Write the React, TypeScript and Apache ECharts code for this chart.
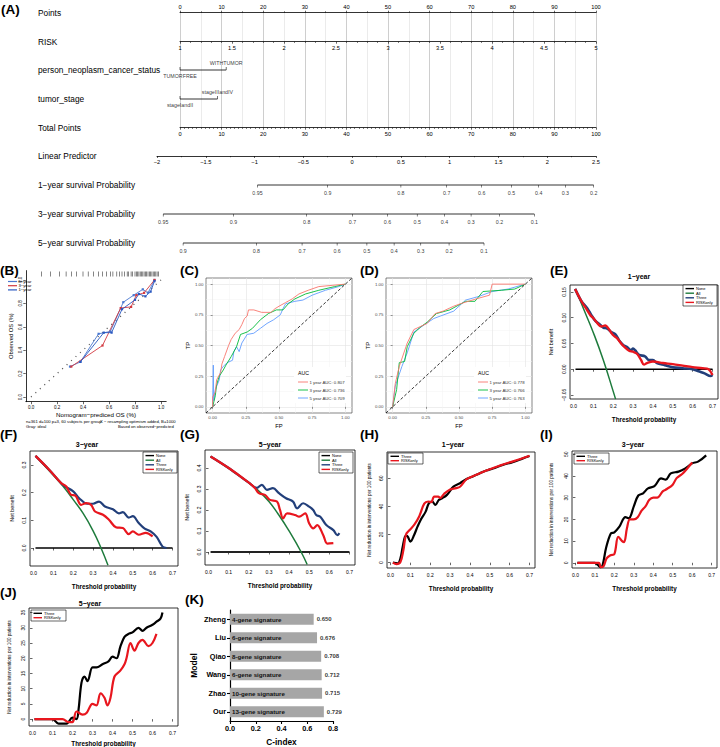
import React, { useEffect, useRef } from "react";
import * as echarts from "echarts";

const FONT = '"Liberation Sans", Arial, Helvetica, sans-serif';
const MINUS = "\u2212";

// ===================== (A) Nomogram =====================
const nomoRowLabels = [
  "Points",
  "RISK",
  "person_neoplasm_cancer_status",
  "tumor_stage",
  "Total Points",
  "Linear Predictor",
  "1\u2212year survival Probability",
  "3\u2212year survival Probability",
  "5\u2212year survival Probability",
];
const statusLevels = ["TUMORFREE", "WITHTUMOR"];
const statusPoints = [0, 11.1];
const stageLevels = ["stageIandII", "stageIIIandIV"];
const stagePoints = [0, 9.0];
const surv1Ticks = [0.95, 0.9, 0.8, 0.7, 0.6, 0.5, 0.4, 0.3, 0.2];
const surv3Ticks = [0.95, 0.9, 0.8, 0.7, 0.6, 0.5, 0.4, 0.3, 0.2, 0.1];
const surv5Ticks = [0.9, 0.8, 0.7, 0.6, 0.5, 0.4, 0.3, 0.2, 0.1];
// linear predictor offsets (log baseline cumulative hazard) for 1/3/5 years
const survShift = [2.0, 1.034, 0.518];

// ===================== (B) Calibration =====================
const calib5 = [[0.30, 0.26], [0.38, 0.30], [0.52, 0.54], [0.61, 0.56], [0.71, 0.81], [0.79, 0.87], [0.86, 0.92], [0.90, 0.89], [0.95, 1.0]];
const calib3 = [[0.31, 0.26], [0.55, 0.44], [0.69, 0.76], [0.77, 0.77], [0.81, 0.87], [0.87, 0.89], [0.95, 1.0]];
const calib1 = [[0.38, 0.30], [0.56, 0.55], [0.62, 0.55], [0.70, 0.75], [0.80, 0.83], [0.83, 0.88], [0.88, 0.86], [0.92, 0.90], [0.95, 0.99]];
const calibRug = [0.08, 0.15, 0.22, 0.27, 0.31, 0.35, 0.4, 0.44, 0.48, 0.52, 0.55, 0.58, 0.61, 0.63, 0.66, 0.68, 0.7, 0.72, 0.74, 0.75, 0.77, 0.78, 0.8, 0.81, 0.82, 0.83, 0.84, 0.85, 0.86, 0.87, 0.88, 0.89, 0.9, 0.91, 0.92, 0.93, 0.94, 0.95, 0.96, 0.97, 0.98];
const calibTicks = [0, 0.2, 0.4, 0.6, 0.8, 1.0];

// ===================== (C)/(D) ROC =====================
const rocTicks = [0, 0.25, 0.5, 0.75, 1];
const rocMinor = [0.125, 0.375, 0.625, 0.875];
const rocC1 = [[0, 0], [0, 0.08], [0.02, 0.12], [0.03, 0.22], [0.06, 0.28], [0.07, 0.35], [0.09, 0.41], [0.12, 0.5], [0.14, 0.55], [0.17, 0.6], [0.2, 0.63], [0.22, 0.67], [0.24, 0.72], [0.26, 0.74], [0.27, 0.79], [0.31, 0.79], [0.37, 0.77], [0.44, 0.77], [0.47, 0.8], [0.5, 0.82], [0.55, 0.85], [0.6, 0.88], [0.65, 0.92], [0.72, 0.95], [0.8, 0.98], [0.9, 0.99], [1, 1]];
const rocC3 = [[0, 0], [0.02, 0.09], [0.03, 0.18], [0.05, 0.25], [0.08, 0.3], [0.1, 0.34], [0.14, 0.41], [0.18, 0.49], [0.21, 0.59], [0.26, 0.61], [0.3, 0.64], [0.36, 0.71], [0.42, 0.76], [0.48, 0.79], [0.53, 0.79], [0.57, 0.84], [0.62, 0.88], [0.7, 0.92], [0.8, 0.95], [0.92, 0.98], [1, 1]];
const rocC5 = [[0, 0], [0.005, 0.34], [0.008, 0.05], [0.02, 0.14], [0.05, 0.22], [0.06, 0.3], [0.08, 0.33], [0.11, 0.36], [0.15, 0.38], [0.16, 0.45], [0.18, 0.49], [0.2, 0.45], [0.22, 0.52], [0.26, 0.59], [0.31, 0.6], [0.36, 0.64], [0.41, 0.68], [0.46, 0.71], [0.51, 0.75], [0.53, 0.8], [0.55, 0.84], [0.62, 0.86], [0.68, 0.87], [0.75, 0.91], [0.85, 0.95], [0.95, 0.98], [1, 1]];
const rocCLabels = ["1 year AUC: 0.807", "3 year AUC: 0.736", "5 year AUC: 0.709"];
const rocD1 = [[0, 0], [0.02, 0.19], [0.05, 0.33], [0.11, 0.52], [0.16, 0.63], [0.26, 0.68], [0.32, 0.76], [0.38, 0.78], [0.46, 0.82], [0.51, 0.84], [0.63, 0.88], [0.73, 0.91], [0.75, 1.0], [1, 1]];
const rocD3 = [[0, 0], [0.03, 0.14], [0.05, 0.36], [0.09, 0.37], [0.11, 0.49], [0.16, 0.6], [0.21, 0.65], [0.26, 0.69], [0.33, 0.76], [0.43, 0.79], [0.55, 0.86], [0.62, 0.86], [0.68, 0.94], [0.82, 0.95], [0.92, 0.96], [1, 1]];
const rocD5 = [[0, 0], [0.02, 0.17], [0.07, 0.33], [0.11, 0.44], [0.16, 0.61], [0.24, 0.67], [0.31, 0.72], [0.36, 0.74], [0.46, 0.78], [0.55, 0.87], [0.65, 0.9], [0.75, 0.94], [0.87, 0.96], [1, 1]];
const rocDLabels = ["1 year AUC: 0.778", "3 year AUC: 0.766", "5 year AUC: 0.763"];

// ===================== (E)/(F)/(G) DCA net benefit =====================
const dcaXTicks = [0, 0.1, 0.2, 0.3, 0.4, 0.5, 0.6, 0.7];
const noneLine = [[0.01, 0], [0.7, 0]];
const e1All = [[0.01, 0.156], [0.05, 0.118], [0.1, 0.071], [0.15, 0.018], [0.2, -0.043], [0.212, -0.058]];
const e1Three = [[0.008, 0.156], [0.04, 0.132], [0.07, 0.118], [0.09, 0.105], [0.11, 0.094], [0.13, 0.088], [0.15, 0.081], [0.17, 0.079], [0.19, 0.072], [0.21, 0.068], [0.23, 0.056], [0.25, 0.047], [0.27, 0.043], [0.29, 0.037], [0.3, 0.04], [0.31, 0.037], [0.33, 0.028], [0.36, 0.025], [0.38, 0.018], [0.4, 0.018], [0.42, 0.012], [0.46, 0.008], [0.5, 0.004], [0.55, 0.002], [0.6, 0], [0.63, -0.004], [0.66, -0.008], [0.69, -0.013], [0.7, -0.011]];
const e1Risk = [[0.008, 0.156], [0.04, 0.132], [0.06, 0.12], [0.085, 0.105], [0.1, 0.099], [0.119, 0.09], [0.14, 0.083], [0.16, 0.085], [0.17, 0.082], [0.19, 0.071], [0.2, 0.066], [0.22, 0.06], [0.24, 0.05], [0.255, 0.044], [0.28, 0.036], [0.3, 0.034], [0.32, 0.03], [0.34, 0.018], [0.355, 0.009], [0.37, 0.012], [0.4, 0.015], [0.45, 0.012], [0.5, 0.01], [0.55, 0.007], [0.6, 0.004], [0.65, 0.002], [0.68, 0], [0.7, -0.011]];
const f3All = [[0.01, 0.333], [0.1, 0.263], [0.15, 0.222], [0.2, 0.175], [0.25, 0.125], [0.3, 0.062], [0.34, 0.0], [0.375, -0.062]];
const f3Three = [[0.01, 0.333], [0.08, 0.282], [0.14, 0.234], [0.16, 0.222], [0.2, 0.205], [0.23, 0.18], [0.27, 0.16], [0.3, 0.16], [0.33, 0.168], [0.36, 0.15], [0.4, 0.14], [0.43, 0.125], [0.45, 0.13], [0.48, 0.11], [0.5, 0.115], [0.53, 0.09], [0.56, 0.07], [0.59, 0.06], [0.62, 0.04], [0.65, 0.005], [0.67, 0.0]];
const f3Risk = [[0.01, 0.333], [0.08, 0.282], [0.14, 0.234], [0.165, 0.222], [0.19, 0.192], [0.21, 0.19], [0.24, 0.156], [0.265, 0.162], [0.29, 0.156], [0.31, 0.132], [0.35, 0.12], [0.38, 0.102], [0.415, 0.075], [0.45, 0.072], [0.48, 0.05], [0.5, 0.06], [0.53, 0.048], [0.565, 0.055], [0.6, 0.042]];
const g5All = [[0.01, 0.455], [0.1, 0.398], [0.2, 0.33], [0.25, 0.29], [0.3, 0.24], [0.35, 0.175], [0.4, 0.1], [0.46, 0.0], [0.49, -0.06]];
const g5Three = [[0.01, 0.455], [0.1, 0.4], [0.2, 0.33], [0.24, 0.305], [0.265, 0.32], [0.29, 0.296], [0.32, 0.304], [0.35, 0.28], [0.385, 0.256], [0.42, 0.24], [0.44, 0.208], [0.47, 0.232], [0.5, 0.216], [0.52, 0.2], [0.535, 0.176], [0.555, 0.168], [0.585, 0.128], [0.62, 0.104], [0.64, 0.08], [0.65, 0.09]];
const g5Risk = [[0.01, 0.455], [0.1, 0.4], [0.2, 0.33], [0.23, 0.305], [0.25, 0.28], [0.28, 0.272], [0.305, 0.248], [0.34, 0.24], [0.355, 0.2], [0.37, 0.16], [0.39, 0.184], [0.43, 0.176], [0.45, 0.168], [0.48, 0.184], [0.5, 0.136], [0.52, 0.112], [0.54, 0.128], [0.57, 0.08], [0.59, 0.04], [0.62, 0.042]];

// ===================== (H)/(I)/(J) net reduction =====================
const h1Three = [[0.012, 0], [0.036, -0.5], [0.05, 3], [0.061, 11], [0.073, 18.5], [0.083, 19], [0.1, 15], [0.119, 19.7], [0.136, 25.6], [0.152, 30.4], [0.177, 36.3], [0.193, 42.2], [0.21, 43.4], [0.226, 41], [0.243, 44.6], [0.26, 45.8], [0.284, 48.2], [0.317, 54.1], [0.35, 56.5], [0.383, 59.5], [0.417, 61.5], [0.45, 63.6], [0.483, 65.5], [0.516, 67], [0.565, 69.5], [0.615, 71.5], [0.664, 74], [0.7, 75.9]];
const h1Risk = [[0.012, 0], [0.03, -1], [0.05, 0.5], [0.065, 9], [0.078, 20], [0.095, 23], [0.12, 27], [0.145, 33], [0.17, 42], [0.19, 43.5], [0.205, 43], [0.22, 47], [0.24, 47], [0.25, 46], [0.27, 49], [0.3, 52], [0.33, 53], [0.35, 54], [0.38, 59], [0.4, 60.5], [0.45, 63.6], [0.5, 66.5], [0.55, 69], [0.6, 71.3], [0.65, 73.5], [0.7, 76]];
const i3Three = [[0.01, 0], [0.1, 0], [0.115, -1], [0.13, -2], [0.14, -1], [0.158, 7], [0.182, 13.5], [0.2, 14], [0.225, 16.5], [0.257, 21], [0.274, 20.5], [0.3, 26], [0.323, 31], [0.348, 32], [0.373, 34.3], [0.406, 35.3], [0.44, 38.9], [0.464, 38.3], [0.49, 41.2], [0.53, 42], [0.565, 43.5], [0.6, 45.8], [0.63, 46.6], [0.672, 49.5]];
const i3Risk = [[0.01, 0], [0.12, 0], [0.13, -2], [0.145, -1.5], [0.16, 2], [0.18, 3.5], [0.2, 4], [0.22, 12], [0.24, 10], [0.25, 9.5], [0.265, 16], [0.28, 20], [0.3, 20], [0.32, 21], [0.34, 24], [0.36, 26], [0.38, 29], [0.4, 30], [0.42, 30], [0.45, 33], [0.47, 34], [0.5, 36], [0.52, 39], [0.55, 41], [0.58, 44], [0.6, 46.2]];
const j5Three = [[0.01, 0], [0.1, 0], [0.13, -1.5], [0.17, -1.5], [0.2, 0.5], [0.22, 0], [0.23, 3], [0.245, 12], [0.26, 14], [0.275, 12.5], [0.3, 17], [0.32, 17], [0.35, 18], [0.38, 19], [0.4, 20.5], [0.42, 20], [0.44, 24], [0.46, 27], [0.48, 28], [0.5, 28.5], [0.53, 30], [0.55, 29], [0.57, 30], [0.6, 31], [0.62, 32], [0.64, 33], [0.65, 35]];
const j5Risk = [[0.01, 0], [0.15, 0], [0.18, -1], [0.2, -1], [0.22, 2.5], [0.25, 1.5], [0.27, 2], [0.3, 5], [0.32, 4.5], [0.34, 8.5], [0.36, 7], [0.375, 4.5], [0.39, 7], [0.41, 14], [0.44, 16], [0.46, 18], [0.47, 20], [0.49, 25], [0.51, 22.5], [0.53, 25], [0.55, 26], [0.58, 24], [0.6, 25], [0.62, 28]];

// ===================== (K) C-index bar chart =====================
const modelNames = ["Zheng", "Liu", "Qiao", "Wang", "Zhao", "Our"];
const signatures = ["4-gene signature", "6-gene signature", "8-gene signature", "6-gene signature", "10-gene signature", "13-gene signature"];
const cIndex = [0.650, 0.676, 0.708, 0.712, 0.715, 0.729];

const C_NONE = "#000000";
const C_ALL = "#1E7B3C";
const C_THREE = "#223F7A";
const C_RISK = "#E8161E";

function buildOption() {
  const grid: any[] = [];
  const xAxis: any[] = [];
  const yAxis: any[] = [];
  const series: any[] = [];
  const graphic: any[] = [];

  const text = (x: number, y: number, t: string, o: any = {}) =>
    graphic.push({
      type: "text",
      x,
      y,
      silent: true,
      z: o.z || 1,
      rotation: o.rotation || 0,
      style: { text: t, fontFamily: FONT, fontSize: 8, fill: "#000", verticalAlign: "middle", align: "left", ...o.style },
    });

  function addGrid(g: any, xa: any, ya: any) {
    const gi = grid.length;
    grid.push({ ...g });
    const xi = xAxis.length;
    xAxis.push({ gridIndex: gi, type: "value", ...xa });
    const yi = yAxis.length;
    yAxis.push({ gridIndex: gi, type: "value", ...ya });
    return { gi, xi, yi };
  }

  // ---------- Nomogram ----------
  const PX0 = 180, PX1 = 596; // points 0..100
  const LX0 = 157, LX1 = 596; // linear predictor -2..2.5
  const ROW = [12.7, 41.7, 70, 99, 127.7, 156, 185, 214, 243];
  nomoRowLabels.forEach((l, i) => text(38, ROW[i], l, { style: { fontSize: 8.3 } }));

  const nomoLabel = { fontSize: 5.7, color: "#000", fontFamily: FONT };
  const axLine = { show: true, onZero: false, lineStyle: { color: "#000", width: 0.8 } };
  const fmtNum = (v: number) => (v < 0 ? MINUS + Math.abs(v) : String(v));

  // Points (with vertical reference lines down to Total Points)
  addGrid(
    { left: PX0, top: ROW[0], width: PX1 - PX0, height: ROW[4] - ROW[0] },
    {
      min: 0, max: 100, interval: 10, position: "top",
      axisLine: axLine,
      axisTick: { show: true, length: 2, lineStyle: { color: "#000", width: 0.6 } },
      minorTick: { show: true, splitNumber: 2, length: 1.5, lineStyle: { color: "#000", width: 0.5 } },
      axisLabel: { ...nomoLabel, margin: 3 },
      splitLine: { show: true, lineStyle: { color: "#c8c8c8", width: 0.9 } },
      minorSplitLine: { show: true, lineStyle: { color: "#e2e2e2", width: 0.7 } },
    },
    { min: 0, max: 1, show: false }
  );
  const simpleAxisRow = (y: number, left: number, right: number, min: number, max: number, interval: number, minorSplit: number) =>
    addGrid(
      { left, top: y - 1, width: right - left, height: 1 },
      {
        min, max, interval, position: "bottom",
        axisLine: axLine,
        axisTick: { show: true, length: 2, lineStyle: { color: "#000", width: 0.6 } },
        minorTick: { show: true, splitNumber: minorSplit, length: 1.3, lineStyle: { color: "#000", width: 0.5 } },
        axisLabel: { ...nomoLabel, margin: 3, formatter: fmtNum },
        splitLine: { show: false },
      },
      { min: 0, max: 1, show: false }
    );
  simpleAxisRow(ROW[1], PX0, PX1, 1, 5, 0.5, 5);
  simpleAxisRow(ROW[4], PX0, PX1, 0, 100, 10, 10);
  simpleAxisRow(ROW[5], LX0, LX1, -2, 2.5, 0.5, 2);

  // categorical rows
  const catRow = (y: number, levels: string[], pts: number[]) => {
    const { xi, yi } = addGrid(
      { left: PX0, top: y - 1, width: PX1 - PX0, height: 2 },
      { min: 0, max: 100, show: false },
      { min: -1, max: 1, show: false }
    );
    series.push({
      type: "line", xAxisIndex: xi, yAxisIndex: yi, silent: true, symbol: "none",
      data: [[pts[0], 0], [pts[pts.length - 1], 0]],
      lineStyle: { color: "#000", width: 0.8 },
    });
    series.push({
      type: "scatter", xAxisIndex: xi, yAxisIndex: yi, silent: true,
      symbol: "rect", symbolSize: [0.7, 3], symbolOffset: [0, -1.5],
      itemStyle: { color: "#000" },
      data: levels.map((lv, i) => ({
        name: lv, value: [pts[i], 0],
        label: { show: true, position: i % 2 === 1 ? "top" : "bottom", distance: i % 2 === 1 ? 2 : 3, formatter: "{b}", fontSize: 5.3, color: "#000", fontFamily: FONT },
      })),
    });
  };
  catRow(ROW[2], statusLevels, statusPoints);
  catRow(ROW[3], stageLevels, stagePoints);

  // survival probability rows on linear-predictor scale
  const survRow = (y: number, ticks: number[], shift: number) => {
    const { xi, yi } = addGrid(
      { left: LX0, top: y - 1, width: LX1 - LX0, height: 2 },
      { min: -2, max: 2.5, show: false },
      { min: -1, max: 1, show: false }
    );
    const lp = (s: number) => Math.log(-Math.log(s)) + shift;
    series.push({
      type: "line", xAxisIndex: xi, yAxisIndex: yi, silent: true, symbol: "none",
      data: [[lp(ticks[0]), 0], [lp(ticks[ticks.length - 1]), 0]],
      lineStyle: { color: "#000", width: 0.8 },
    });
    series.push({
      type: "scatter", xAxisIndex: xi, yAxisIndex: yi, silent: true,
      symbol: "rect", symbolSize: [0.6, 2.4], symbolOffset: [0, 1.2],
      itemStyle: { color: "#000" },
      data: ticks.map((t) => ({ name: String(t), value: [lp(t), 0] })),
      label: { show: true, position: "bottom", distance: 3, formatter: "{b}", fontSize: 5.3, color: "#000", fontFamily: FONT },
    });
  };
  survRow(ROW[6], surv1Ticks, survShift[0]);
  survRow(ROW[7], surv3Ticks, survShift[1]);
  survRow(ROW[8], surv5Ticks, survShift[2]);

  // ---------- Panel letters ----------
  const letter = (x: number, y: number, t: string) =>
    text(x, y, t, { style: { fontSize: 13.5, fontWeight: "bold", verticalAlign: "top" } });
  letter(1, 2, "(A)");
  letter(0, 263, "(B)");
  letter(180, 263, "(C)");
  letter(360, 263, "(D)");
  letter(550, 263, "(E)");
  letter(0, 427, "(F)");
  letter(180, 427, "(G)");
  letter(360, 427, "(H)");
  letter(540, 427, "(I)");
  letter(0, 585, "(J)");
  letter(185, 592, "(K)");

  // ---------- (B) calibration ----------
  {
    const tickStyle = { show: true, customValues: calibTicks, length: 2.5, lineStyle: { color: "#000", width: 0.6 } };
    const { xi, yi } = addGrid(
      { left: 25.8, top: 270.6, width: 140.4, height: 131.1 },
      {
        min: -0.04, max: 1.04, axisLine: axLine, axisTick: tickStyle,
        axisLabel: { customValues: calibTicks, formatter: (v: number) => v.toFixed(1), fontSize: 4.5, margin: 3, color: "#000", fontFamily: FONT },
        splitLine: { show: false },
        name: "Nomogram\u2212prediced OS (%)", nameLocation: "middle", nameGap: 10,
        nameTextStyle: { fontSize: 6.2, fontFamily: FONT, color: "#000" },
      },
      {
        min: -0.04, max: 1.08, axisLine: axLine, axisTick: tickStyle,
        axisLabel: { customValues: calibTicks, formatter: (v: number) => v.toFixed(1), fontSize: 4.5, margin: 2.5, rotate: 90, color: "#000", fontFamily: FONT },
        splitLine: { show: false },
        name: "Observed OS (%)", nameLocation: "middle", nameGap: 12,
        nameTextStyle: { fontSize: 5.8, fontFamily: FONT, color: "#000" },
      }
    );
    series.push({
      type: "line", xAxisIndex: xi, yAxisIndex: yi, silent: true, symbol: "none",
      data: [[0, 0], [1, 1]], lineStyle: { color: "#555", width: 1.3, type: [1, 5] },
    });
    series.push({
      type: "scatter", xAxisIndex: xi, yAxisIndex: yi, silent: true,
      symbol: "rect", symbolSize: [0.6, 5], data: calibRug.map((v) => [v, 1.05]),
      itemStyle: { color: "#000" },
    });
    const cl = (d: number[][], color: string) =>
      series.push({
        type: "line", xAxisIndex: xi, yAxisIndex: yi, silent: true, symbol: "rect", symbolSize: 2.2,
        data: d, lineStyle: { color, width: 0.9 }, itemStyle: { color },
      });
    cl(calib5, "#4A78D0");
    cl(calib3, "#D2383F");
    cl(calib1, "#2A58C0");
    const leg = [["5\u2212year", "#4A78D0"], ["3\u2212year", "#D2383F"], ["1\u2212year", "#2A58C0"]];
    leg.forEach(([t, c], i) => {
      const y = 281.5 + i * 4.2;
      graphic.push({ type: "line", silent: true, shape: { x1: 8, y1: y, x2: 17, y2: y }, style: { stroke: c, lineWidth: 1.2 } });
      text(18.5, y, t, { style: { fontSize: 4.2 } });
    });
    text(26, 421, "n=361 d=100 p=3, 60 subjects per group", { style: { fontSize: 4.2 } });
    text(26, 426, "Gray: ideal", { style: { fontSize: 4.2 } });
    text(100, 421, "X \u2212 resampling optimism added, B=1000", { style: { fontSize: 4.2 } });
    text(118, 426, "Based on observed\u2212predicted", { style: { fontSize: 4.2 } });
  }

  // ---------- (C)/(D) ROC ----------
  const rocPanel = (left: number, d1: number[][], d3: number[][], d5: number[][], labels: string[]) => {
    const lab = { customValues: rocTicks, formatter: (v: number) => v.toFixed(2), fontSize: 4.4, color: "#4d4d4d", fontFamily: FONT, margin: 2.5 };
    const tick = { show: true, customValues: rocTicks, length: 2, lineStyle: { color: "#333", width: 0.5 } };
    const { gi, xi, yi } = addGrid(
      { left, top: 278, width: 146, height: 135, show: true, borderColor: "#333", borderWidth: 0.6, backgroundColor: "#fff" },
      {
        min: -0.05, max: 1.05, axisLine: { show: false }, axisTick: tick, axisLabel: lab,
        splitLine: { show: true, lineStyle: { color: "#e3e3e3", width: 0.6 } },
        name: "FP", nameLocation: "middle", nameGap: 10, nameTextStyle: { fontSize: 5.8, fontFamily: FONT, color: "#000" },
      },
      {
        min: -0.05, max: 1.05, axisLine: { show: false }, axisTick: tick, axisLabel: lab,
        splitLine: { show: true, lineStyle: { color: "#e3e3e3", width: 0.6 } },
        name: "TP", nameLocation: "middle", nameGap: 14, nameTextStyle: { fontSize: 5.8, fontFamily: FONT, color: "#000" },
      }
    );
    // minor gridlines
    xAxis.push({
      gridIndex: gi, type: "value", min: -0.05, max: 1.05, position: "top",
      axisLine: { show: false }, axisTick: { show: false, customValues: rocMinor }, axisLabel: { show: false, customValues: rocMinor },
      splitLine: { show: true, lineStyle: { color: "#f2f2f2", width: 0.5 } },
    });
    yAxis.push({
      gridIndex: gi, type: "value", min: -0.05, max: 1.05, position: "right",
      axisLine: { show: false }, axisTick: { show: false, customValues: rocMinor }, axisLabel: { show: false, customValues: rocMinor },
      splitLine: { show: true, lineStyle: { color: "#f2f2f2", width: 0.5 } },
    });
    const cols = ["#F8766D", "#00BA38", "#619CFF"];
    [d1, d3, d5].forEach((d, i) =>
      series.push({
        type: "line", xAxisIndex: xi, yAxisIndex: yi, silent: true, symbol: "none",
        data: d, lineStyle: { color: cols[i], width: 0.9 }, z: 3 + (2 - i),
      })
    );
    series.push({
      type: "line", xAxisIndex: xi, yAxisIndex: yi, silent: true, symbol: "none", z: 6,
      data: [[-0.05, -0.05], [1.05, 1.05]], lineStyle: { color: "#000", width: 0.8, type: [3, 2] },
    });
    const lx = left + 92;
    graphic.push({ type: "rect", silent: true, z: 10, shape: { x: lx - 4, y: 367, width: 52, height: 36 }, style: { fill: "#fff" } });
    text(lx, 373, "AUC", { style: { fontSize: 5.2 }, z: 11 });
    labels.forEach((t, i) => {
      const y = 382 + i * 8;
      graphic.push({ type: "line", silent: true, z: 11, shape: { x1: lx, y1: y, x2: lx + 10, y2: y }, style: { stroke: cols[i], lineWidth: 0.9 } });
      graphic.push({ type: "text", silent: true, z: 11, x: lx + 11.5, y, style: { text: t, fontSize: 4.3, fill: "#333", fontFamily: FONT, verticalAlign: "middle" } });
    });
  };
  rocPanel(206, rocC1, rocC3, rocC5, rocCLabels);
  rocPanel(386, rocD1, rocD3, rocD5, rocDLabels);

  // ---------- DCA panels ----------
  const dcaPanel = (cfg: any) => {
    const tickX = { show: true, customValues: dcaXTicks, length: 2.5, lineStyle: { color: "#000", width: 0.6 } };
    const tickY = { show: true, customValues: cfg.yTicks, length: 2.5, lineStyle: { color: "#000", width: 0.6 } };
    const { xi, yi } = addGrid(
      { left: cfg.left, top: cfg.top, width: cfg.width, height: cfg.height, show: true, borderColor: "#000", borderWidth: 0.8 },
      {
        min: -0.0176, max: 0.7276, axisLine: { show: false }, axisTick: tickX,
        axisLabel: { customValues: dcaXTicks, formatter: (v: number) => v.toFixed(1), fontSize: 5, margin: 4, color: "#000", fontFamily: FONT },
        splitLine: { show: false },
        name: "Threshold probability", nameLocation: "middle", nameGap: cfg.xNameGap || 17,
        nameTextStyle: { fontSize: 6.3, fontWeight: "bold", fontFamily: FONT, color: "#000" },
      },
      {
        min: cfg.ymin, max: cfg.ymax, axisLine: { show: false }, axisTick: tickY,
        axisLabel: { customValues: cfg.yTicks, formatter: cfg.yFmt, rotate: 90, fontSize: 5, margin: 3.5, color: "#000", fontFamily: FONT },
        splitLine: { show: false },
        name: cfg.yName, nameLocation: "middle", nameGap: cfg.yNameGap,
        nameTextStyle: { fontSize: cfg.yNameSize, fontFamily: FONT, color: "#000" },
      }
    );
    cfg.lines.forEach((l: any, k: number) =>
      series.push({
        type: "line", xAxisIndex: xi, yAxisIndex: yi, silent: true, symbol: "none", smooth: l.smooth ?? 0.35,
        data: l.data, lineStyle: { color: l.color, width: l.width }, z: 2 + k,
      })
    );
    text(cfg.titleX, cfg.titleY, cfg.title, { style: { fontSize: 7, fontWeight: "bold", align: "center" } });
    // legend
    const L = cfg.legend;
    const step = L.step;
    const children: any[] = [
      { type: "rect", shape: { x: 0, y: 0, width: L.w, height: L.h }, style: { fill: "#fff", stroke: "#000", lineWidth: 0.6 } },
    ];
    L.items.forEach((it: any, i: number) => {
      const y = L.pad + i * step;
      children.push({ type: "line", shape: { x1: 2.5, y1: y, x2: 11, y2: y }, style: { stroke: it.color, lineWidth: 1.4 } });
      children.push({ type: "text", x: 13, y, style: { text: it.name, fontSize: L.fs, fill: "#000", fontFamily: FONT, verticalAlign: "middle" } });
    });
    graphic.push({ type: "group", x: L.x, y: L.y, silent: true, z: 20, children });
  };
  const legend4 = (x: number, y: number) => ({
    x, y, w: 34, h: 21, step: 4.6, pad: 3.6, fs: 4,
    items: [{ name: "None", color: C_NONE }, { name: "All", color: C_ALL }, { name: "Three", color: C_THREE }, { name: "RISKonly", color: C_RISK }],
  });
  const legend2 = (x: number, y: number) => ({
    x, y, w: 35, h: 11, step: 4.4, pad: 3.3, fs: 4,
    items: [{ name: "Three", color: "#000" }, { name: "RISKonly", color: C_RISK }],
  });
  const fmt2m = (v: number) => (v < 0 ? MINUS : "") + Math.abs(v).toFixed(2);
  const fmt1 = (v: number) => v.toFixed(1);
  const fmt0 = (v: number) => String(v);

  dcaPanel({
    left: 570, top: 285, width: 148, height: 114, ymin: -0.0578, ymax: 0.1636,
    yTicks: [-0.05, 0, 0.05, 0.1, 0.15], yFmt: fmt2m, yName: "Net benefit", yNameGap: 16, yNameSize: 5.5,
    title: "1\u2212year", titleX: 639, titleY: 276,
    lines: [
      { data: noneLine, color: C_NONE, width: 1.5, smooth: false },
      { data: e1All, color: C_ALL, width: 1.5, smooth: true },
      { data: e1Three, color: C_THREE, width: 2.6 },
      { data: e1Risk, color: C_RISK, width: 2.4 },
    ],
    legend: legend4(683, 285),
  });
  dcaPanel({
    left: 30, top: 451, width: 148, height: 115, ymin: -0.065, ymax: 0.3506,
    yTicks: [0, 0.1, 0.2, 0.3], yFmt: fmt1, yName: "Net benefit", yNameGap: 15, yNameSize: 5.5,
    title: "3\u2212year", titleX: 87, titleY: 444,
    lines: [
      { data: noneLine, color: C_NONE, width: 1.5, smooth: false },
      { data: f3All, color: C_ALL, width: 1.5, smooth: true },
      { data: f3Three, color: C_THREE, width: 2.2 },
      { data: f3Risk, color: C_RISK, width: 2.2 },
    ],
    legend: legend4(143, 452),
  });
  dcaPanel({
    left: 205, top: 450, width: 150, height: 115, ymin: -0.062, ymax: 0.4857,
    yTicks: [0, 0.1, 0.2, 0.3, 0.4], yFmt: fmt1, yName: "Net benefit", yNameGap: 15, yNameSize: 5.5,
    title: "5\u2212year", titleX: 270, titleY: 444,
    lines: [
      { data: noneLine, color: "#222", width: 1.8, smooth: false },
      { data: g5All, color: C_ALL, width: 1.5, smooth: true },
      { data: g5Three, color: C_THREE, width: 2.2 },
      { data: g5Risk, color: C_RISK, width: 2.2 },
    ],
    legend: legend4(319, 452),
  });
  const nrName = "Net reduction in interventions per 100 patients";
  dcaPanel({
    left: 387, top: 452, width: 148, height: 116, ymin: -3.8, ymax: 78.7,
    yTicks: [0, 20, 40, 60], yFmt: fmt0, yName: nrName, yNameGap: 15, yNameSize: 4.6,
    title: "1\u2212year", titleX: 453, titleY: 444,
    lines: [
      { data: h1Three, color: "#000", width: 2.2 },
      { data: h1Risk, color: C_RISK, width: 2.2 },
    ],
    legend: legend2(388, 453),
  });
  dcaPanel({
    left: 572, top: 451, width: 145, height: 117, ymin: -2.4, ymax: 51.5,
    yTicks: [0, 10, 20, 30, 40, 50], yFmt: fmt0, yName: nrName, yNameGap: 18, yNameSize: 4.6,
    title: "3\u2212year", titleX: 633, titleY: 444,
    lines: [
      { data: i3Three, color: "#000", width: 2.2 },
      { data: i3Risk, color: C_RISK, width: 2.2 },
    ],
    legend: legend2(574, 453),
  });
  dcaPanel({
    left: 29, top: 608, width: 149, height: 120, ymin: -2.26, ymax: 36.5,
    yTicks: [0, 5, 10, 15, 20, 25, 30, 35], yFmt: fmt0, yName: nrName, yNameGap: 17, yNameSize: 4.6,
    title: "5\u2212year", titleX: 90, titleY: 603, xNameGap: 14,
    lines: [
      { data: j5Three, color: "#000", width: 2.2 },
      { data: j5Risk, color: C_RISK, width: 2.2 },
    ],
    legend: legend2(31, 610),
  });

  // ---------- (K) bar chart ----------
  {
    const gi = grid.length;
    grid.push({ left: 230, top: 610, width: 103, height: 112 });
    const xi = xAxis.length;
    xAxis.push({
      gridIndex: gi, type: "value", min: 0, max: 0.8, interval: 0.2,
      axisLine: { show: true, onZero: false, lineStyle: { color: "#000", width: 1.2 } },
      axisTick: { show: true, length: 3, lineStyle: { color: "#000", width: 1.1 } },
      axisLabel: { formatter: (v: number) => v.toFixed(1), fontSize: 7.3, fontWeight: "bold", color: "#000", fontFamily: FONT, margin: 4 },
      splitLine: { show: false },
      name: "C-index", nameLocation: "middle", nameGap: 17,
      nameTextStyle: { fontSize: 8.3, fontWeight: "bold", fontFamily: FONT, color: "#000" },
    });
    const yi = yAxis.length;
    yAxis.push({
      gridIndex: gi, type: "category", data: modelNames, inverse: true,
      axisLine: { show: true, lineStyle: { color: "#000", width: 1.2 } },
      axisTick: { show: true, alignWithLabel: true, length: 3, lineStyle: { color: "#000", width: 1.1 } },
      axisLabel: { fontSize: 7.3, fontWeight: "bold", color: "#000", fontFamily: FONT, margin: 4 },
      name: "Model", nameLocation: "middle", nameGap: 32,
      nameTextStyle: { fontSize: 8.5, fontWeight: "bold", fontFamily: FONT, color: "#000" },
    });
    series.push({
      type: "bar", xAxisIndex: xi, yAxisIndex: yi, silent: true, barWidth: 11,
      data: cIndex, itemStyle: { color: "#A6A6A6" },
      label: {
        show: true, position: "insideLeft", distance: 2,
        formatter: (p: any) => signatures[p.dataIndex],
        fontSize: 6.2, fontWeight: "bold", color: "#111", fontFamily: FONT,
      },
    });
    series.push({
      type: "scatter", xAxisIndex: xi, yAxisIndex: yi, silent: true, symbolSize: 0,
      data: modelNames.map((m, i) => [cIndex[i], m]),
      label: {
        show: true, position: "right", distance: 3,
        formatter: (p: any) => p.value[0].toFixed(3),
        fontSize: 6, fontWeight: "bold", color: "#000", fontFamily: FONT,
      },
    });
  }

  return {
    animation: false,
    backgroundColor: "#fff",
    textStyle: { fontFamily: FONT },
    grid,
    xAxis,
    yAxis,
    series,
    graphic,
  };
}

export default function App() {
  const ref = useRef<HTMLDivElement>(null);
  useEffect(() => {
    const chart = echarts.init(ref.current!, null, { renderer: "svg" });
    chart.setOption(buildOption() as any);
    return () => chart.dispose();
  }, []);
  return (
    <div
      ref={ref}
      style={{ position: "absolute", left: 0, top: 0, width: 720, height: 747, background: "#fff" }}
    />
  );
}
